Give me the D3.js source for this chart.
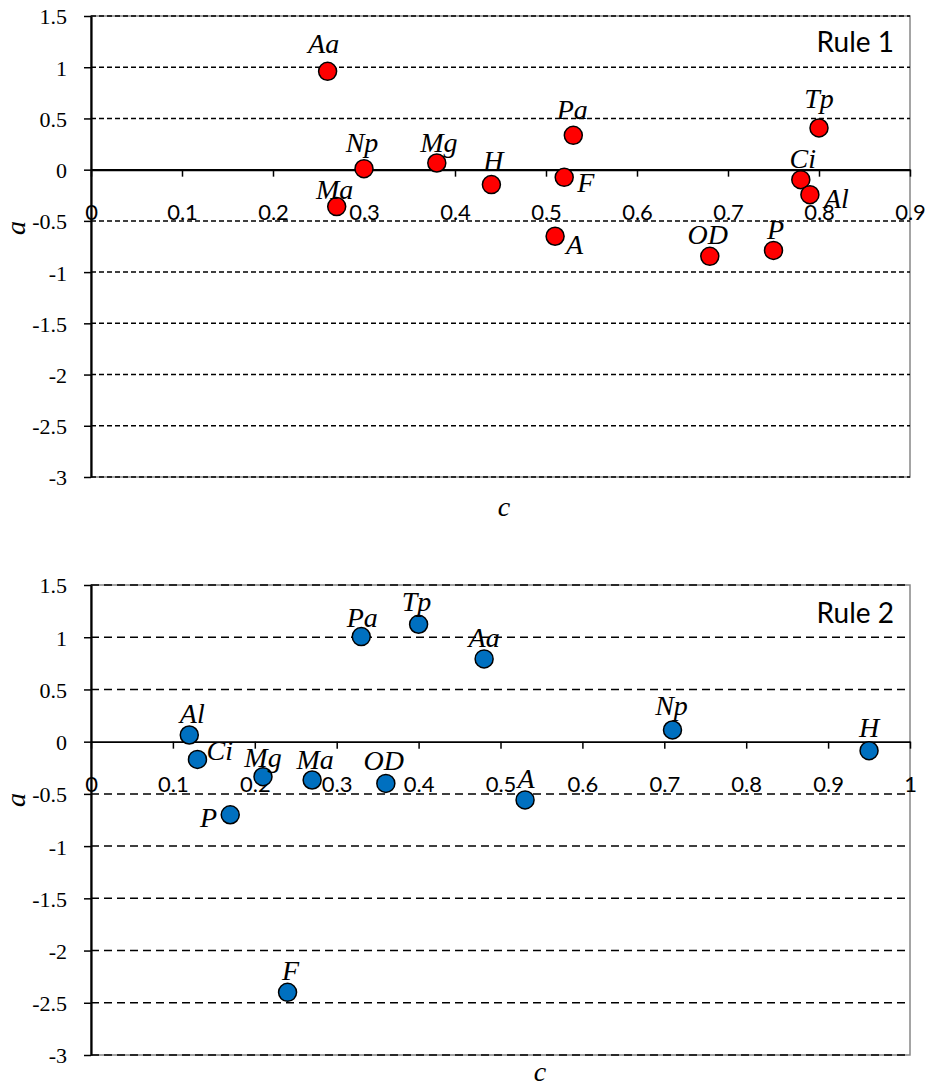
<!DOCTYPE html>
<html>
<head>
<meta charset="utf-8">
<script src="https://cdn.jsdelivr.net/npm/d3@7"></script>
<style>
  html, body { margin: 0; padding: 0; background: #fff; }
  svg { display: block; }
</style>
</head>
<body>
<svg id="chart" width="928" height="1086"></svg>
<script>
// Rule 1 species: composition c versus coefficient a
const names1 = ["Aa", "Np", "Mg", "Ma", "H", "Pa", "F", "A", "OD", "P", "Tp", "Ci", "Al"];
const c1 = [0.26, 0.30, 0.38, 0.27, 0.44, 0.53, 0.52, 0.51, 0.68, 0.75, 0.80, 0.78, 0.79];
const a1 = [0.96, 0.01, 0.065, -0.36, -0.146, 0.335, -0.075, -0.65, -0.846, -0.788, 0.407, -0.098, -0.244];

// Rule 2 species
const names2 = ["Al", "Ci", "Mg", "Ma", "OD", "P", "Pa", "Tp", "Aa", "Np", "H", "A", "F"];
const c2 = [0.12, 0.13, 0.21, 0.27, 0.36, 0.17, 0.33, 0.40, 0.48, 0.71, 0.95, 0.53, 0.24];
const a2 = [0.064, -0.17, -0.335, -0.367, -0.40, -0.70, 1.006, 1.124, 0.792, 0.112, -0.086, -0.558, -2.40];

// Tick values
const yTicks = [1.5, 1, 0.5, 0, -0.5, -1, -1.5, -2, -2.5, -3];
const xTicks1 = [0, 0.1, 0.2, 0.3, 0.4, 0.5, 0.6, 0.7, 0.8, 0.9];
const xTickLabels1 = ["0", "0.1", "0.2", "0.3", "0.4", "0.5", "0.6", "0.7", "0.8", "0.9"];
const xTicks2 = [0, 0.1, 0.2, 0.3, 0.4, 0.5, 0.6, 0.7, 0.8, 0.9, 1];
const xTickLabels2 = ["0", "0.1", "0.2", "0.3", "0.4", "0.5", "0.6", "0.7", "0.8", "0.9", "1"];

// Label placement relative to each marker: [dx, dy (baseline), anchor]
const labelPlace1 = {
  Aa: [-4, -18, "middle"], Np: [-2, -17, "middle"], Mg: [2, -11, "middle"],
  Ma: [-2, -8, "middle"], H: [2, -15, "middle"], Pa: [-1, -16, "middle"],
  F: [13, 15, "start"], A: [11, 18, "start"], OD: [-2, -12, "middle"],
  P: [2, -11, "middle"], Tp: [0, -20, "middle"], Ci: [2, -12, "middle"],
  Al: [14, 13, "start"]
};
const labelPlace2 = {
  Al: [3, -12, "middle"], Ci: [9, 1, "start"], Mg: [0, -10, "middle"],
  Ma: [3, -11, "middle"], OD: [-2, -13, "middle"], P: [-13, 12, "end"],
  Pa: [1, -10, "middle"], Tp: [-2, -13, "middle"], Aa: [0, -12, "middle"],
  Np: [-1, -15, "middle"], H: [0, -14, "middle"], A: [1, -12, "middle"],
  F: [3, -12, "middle"]
};

const serif = "'Liberation Serif', 'Times New Roman', serif";
const sans = "Lato, 'Noto Sans', sans-serif";

const svg = d3.select("#chart");

function drawPanel(p) {
  const x = d3.scaleLinear().domain(p.xDomain).range([91, 910]);
  const y = d3.scaleLinear().domain([-3, 1.5]).range([p.bottom, p.top]);
  const g = svg.append("g");

  // plot area border
  g.append("rect")
    .attr("x", x(p.xDomain[0])).attr("y", y(1.5))
    .attr("width", x(p.xDomain[1]) - x(p.xDomain[0]))
    .attr("height", y(-3) - y(1.5))
    .attr("fill", "none").attr("stroke", "#878787").attr("stroke-width", 1.5);

  // dashed horizontal gridlines
  g.append("g").selectAll("line")
    .data(yTicks.filter(v => v !== 0))
    .join("line")
    .attr("x1", x(p.xDomain[0])).attr("x2", x(p.xDomain[1]))
    .attr("y1", d => y(d)).attr("y2", d => y(d))
    .attr("stroke", "#000").attr("stroke-width", 1.5)
    .attr("stroke-dasharray", p.dash);

  // y axis
  const yAxis = d3.axisLeft(y).tickValues(yTicks).tickFormat(d => String(d))
    .tickSize(7).tickPadding(17).tickSizeOuter(0);
  const ya = g.append("g").attr("transform", `translate(${x(0)},0)`).call(yAxis);
  ya.select(".domain").attr("stroke", "#000").attr("stroke-width", 2.2);
  ya.selectAll(".tick line").attr("stroke", "#000").attr("stroke-width", 1.5);
  ya.selectAll(".tick text")
    .attr("font-family", serif).attr("font-size", 22).attr("fill", "#000")
    .attr("dy", "0.36em");

  // x axis along a = 0
  const xAxis = d3.axisBottom(x).tickValues(p.xTicks)
    .tickFormat((d, i) => p.xTickLabels[i])
    .tickSize(7).tickPadding(28).tickSizeOuter(0);
  const xa = g.append("g").attr("transform", `translate(0,${y(0)})`).call(xAxis);
  xa.select(".domain").attr("stroke", "#000").attr("stroke-width", p.zeroWidth);
  xa.selectAll(".tick line").attr("stroke", "#000").attr("stroke-width", 1.5);
  xa.selectAll(".tick text")
    .attr("font-family", sans).attr("font-size", 22).attr("fill", "#000");

  // markers
  const pts = p.names.map((n, i) => ({ name: n, c: p.c[i], a: p.a[i] }));
  g.append("g").selectAll("circle")
    .data(pts).join("circle")
    .attr("cx", d => x(d.c)).attr("cy", d => y(d.a)).attr("r", 9)
    .attr("fill", p.color).attr("stroke", "#000").attr("stroke-width", 1.5);

  // point labels
  g.append("g").selectAll("text")
    .data(pts).join("text")
    .attr("x", d => x(d.c) + p.place[d.name][0])
    .attr("y", d => y(d.a) + p.place[d.name][1])
    .attr("text-anchor", d => p.place[d.name][2])
    .attr("font-family", serif).attr("font-style", "italic")
    .attr("font-size", 28).attr("fill", "#000")
    .text(d => d.name);

  // panel title
  g.append("text")
    .attr("x", 894).attr("y", p.titleY)
    .attr("text-anchor", "end")
    .attr("font-family", sans).attr("font-size", 28).attr("fill", "#000")
    .text(p.title);

  // axis titles
  g.append("text")
    .attr("transform", `translate(25,${p.aLabelY}) rotate(-90)`)
    .attr("text-anchor", "middle")
    .attr("font-family", serif).attr("font-style", "italic")
    .attr("font-size", 28).attr("fill", "#000")
    .text("a");
  g.append("text")
    .attr("x", p.cLabelX).attr("y", p.cLabelY)
    .attr("text-anchor", "middle")
    .attr("font-family", serif).attr("font-style", "italic")
    .attr("font-size", 28).attr("fill", "#000")
    .text("c");
}

drawPanel({
  names: names1, c: c1, a: a1, place: labelPlace1,
  xDomain: [0, 0.9], xTicks: xTicks1, xTickLabels: xTickLabels1,
  top: 16, bottom: 477, color: "#FF0000", dash: "5,3", zeroWidth: 2.2,
  title: "Rule 1", titleY: 52, aLabelY: 228, cLabelX: 504, cLabelY: 516
});

drawPanel({
  names: names2, c: c2, a: a2, place: labelPlace2,
  xDomain: [0, 1], xTicks: xTicks2, xTickLabels: xTickLabels2,
  top: 585, bottom: 1055, color: "#0070C0", dash: "8,5", zeroWidth: 1.6,
  title: "Rule 2", titleY: 623, aLabelY: 800, cLabelX: 540, cLabelY: 1081
});
</script>
</body>
</html>
